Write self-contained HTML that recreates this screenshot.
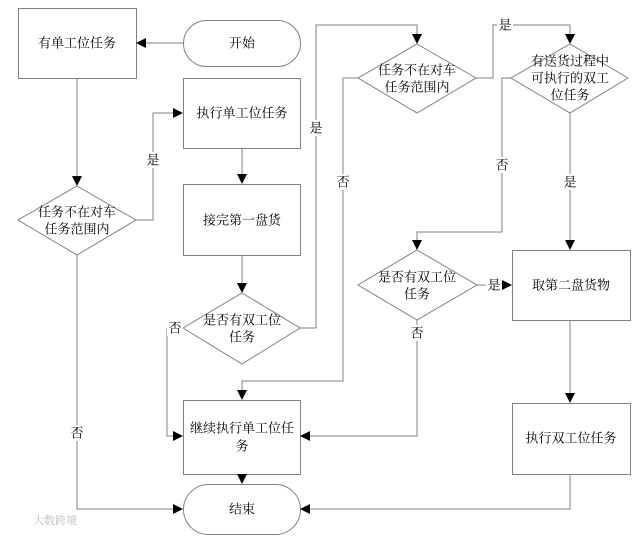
<!DOCTYPE html>
<html><head><meta charset="utf-8"><style>
html,body{margin:0;padding:0;background:#fff;}
svg text{font-family:"Liberation Serif","Noto Serif CJK SC",serif;font-size:13px;fill:#000;text-anchor:middle;dominant-baseline:central;}
</style></head><body>
<svg width="640" height="538" viewBox="0 0 640 538" xmlns="http://www.w3.org/2000/svg">
<defs><marker id="a" markerWidth="10" markerHeight="10" refX="9" refY="5" orient="auto" markerUnits="userSpaceOnUse"><path d="M0,0 L10,5 L0,10 Z" fill="#000"/></marker></defs>
<g fill="#fff" stroke="#808080" stroke-width="1">
<rect x="18.5" y="8.5" width="118" height="70"/>
<rect x="183.5" y="20.5" width="117" height="46" rx="23"/>
<rect x="183.5" y="78.5" width="117" height="70"/>
<rect x="183.5" y="184.5" width="117" height="71"/>
<polygon points="77,186 136,220 77,255 18,220"/>
<polygon points="242,293 300,328 242,364 183,328"/>
<polygon points="417,44 476,78 417,113 358,78"/>
<polygon points="570,44 628,78 570,113 511,78"/>
<polygon points="417,250 477,285 417,320 358,285"/>
<rect x="512.5" y="250.5" width="118" height="70"/>
<rect x="183.5" y="400.5" width="117" height="74"/>
<rect x="512.5" y="403.5" width="118" height="71"/>
<rect x="183.5" y="484.5" width="117" height="50" rx="25"/>
</g>
<g fill="none" stroke="#808080" stroke-width="1" marker-end="url(#a)">
<path d="M183,43 H137"/>
<path d="M77,78 V185"/>
<path d="M136,220 H153 V113 H182"/>
<path d="M77,255 V509 H182"/>
<path d="M242,148 V183"/>
<path d="M242,255 V292"/>
<path d="M300,328 H316 V25 H417 V43"/>
<path d="M183,328 H167 V436 H182"/>
<path d="M358,78 H343 V381 H242 V399"/>
<path d="M476,78 H493 V25 H570 V43"/>
<path d="M511,78 H502 V232 H417 V249"/>
<path d="M570,113 V249"/>
<path d="M477,285 H511"/>
<path d="M417,320 V436 H301"/>
<path d="M570,320 V402"/>
<path d="M242,474 V483"/>
<path d="M570,474 V509 H301"/>
</g>
<g fill="#fff">
<rect x="145" y="152" width="16" height="16"/>
<rect x="69" y="425" width="16" height="16"/>
<rect x="308" y="120" width="16" height="16"/>
<rect x="167" y="320" width="16" height="16"/>
<rect x="335" y="174" width="16" height="16"/>
<rect x="497" y="17" width="16" height="16"/>
<rect x="494" y="157" width="16" height="16"/>
<rect x="562" y="174" width="16" height="16"/>
<rect x="486" y="277" width="16" height="16"/>
<rect x="409" y="325" width="16" height="16"/>
</g>
<text x="77" y="43">有单工位任务</text>
<text x="242" y="43">开始</text>
<text x="242" y="113">执行单工位任务</text>
<text x="242" y="220">接完第一盘货</text>
<text x="77" y="212">任务不在对车</text><text x="77" y="229">任务范围内</text>
<text x="242" y="320">是否有双工位</text><text x="242" y="337">任务</text>
<text x="417" y="70">任务不在对车</text><text x="417" y="87">任务范围内</text>
<text x="570" y="61">有送货过程中</text><text x="570" y="78">可执行的双工</text><text x="570" y="95">位任务</text>
<text x="417" y="277">是否有双工位</text><text x="417" y="294">任务</text>
<text x="571" y="285">取第二盘货物</text>
<text x="242" y="428">继续执行单工位任</text><text x="242" y="446">务</text>
<text x="571" y="438">执行双工位任务</text>
<text x="242" y="509">结束</text>
<text x="153" y="160">是</text>
<text x="77" y="433">否</text>
<text x="316" y="128">是</text>
<text x="175" y="328">否</text>
<text x="343" y="182">否</text>
<text x="505" y="25">是</text>
<text x="502" y="165">否</text>
<text x="570" y="182">是</text>
<text x="494" y="285">是</text>
<text x="417" y="333">否</text>
<text x="55" y="521" style="font-size:11px;fill:#bbb">大数跨境</text>
</svg>
</body></html>
